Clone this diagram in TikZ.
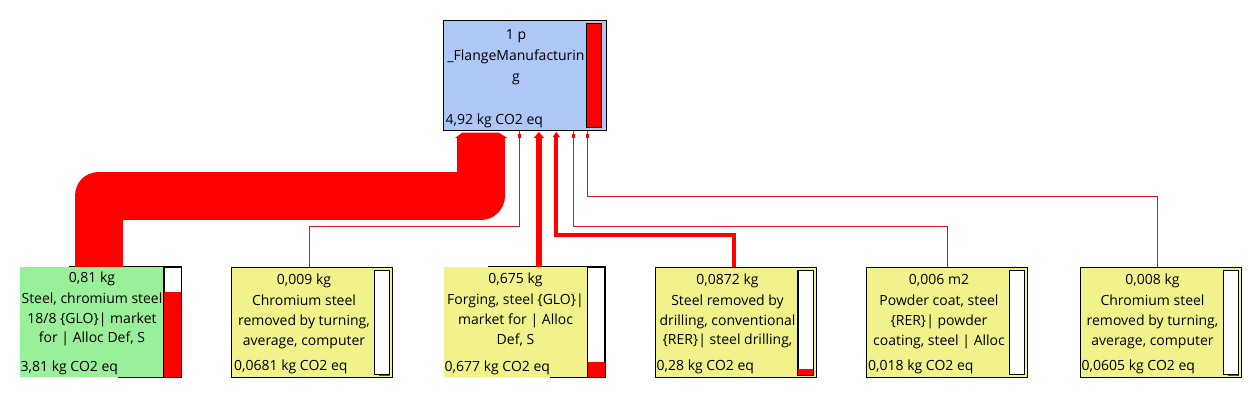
\documentclass[tikz,border=0pt]{standalone}
\usepackage{fontspec}
\setmainfont{Open Sans}
\usetikzlibrary{arrows.meta,calc}
\definecolor{topblue}{RGB}{174,199,247}
\definecolor{procgreen}{RGB}{154,240,154}
\definecolor{procyellow}{RGB}{242,242,140}
\definecolor{flowred}{RGB}{255,0,0}
\definecolor{thinred}{RGB}{205,30,30}
\begin{document}
\begin{tikzpicture}[x=1pt,y=-1pt,
  procbox/.style={draw=black,line width=1pt,inner sep=0pt,minimum width=161pt,minimum height=110pt},
  barbox/.style={draw=black,line width=1pt,fill=white,inner sep=0pt,minimum width=15pt,minimum height=104pt},
  amt/.style={inner sep=0pt,font=\fontsize{14}{19.7}\selectfont,text height=10pt,text depth=3.5pt},
  nm/.style={inner sep=0pt,font=\fontsize{14}{19.7}\selectfont,align=center},
  val/.style={inner sep=0pt,font=\fontsize{14}{17}\selectfont,text height=10pt,text depth=3.5pt,anchor=west},
  border/.style={draw=black,line width=1pt},
  thinflow/.style={draw=thinred,line width=1pt},
  tipmark/.style={fill=flowred},
  bigflow/.style={draw=flowred,line width=48pt,line join=round},
  forgeflow/.style={draw=flowred,line width=6pt,-{Triangle[length=6pt,width=10pt]}},
  drillflow/.style={draw=flowred,line width=4pt,-{Triangle[length=5pt,width=7pt]}}
]
\useasboundingbox (0,0) rectangle (1260,416);

% ---------- top process ----------
\node[procbox,fill=topblue,minimum width=163pt] (top) at (524.5,75) {};
\node[barbox,fill=flowred] (topbar) at (594,75) {};
\node[nm,font=\fontsize{14}{21}\selectfont] (toptitle) at (516,57) {1 p\\\_FlangeManufacturin\\g};
\node[val] (topval) at ($(top.west)+(3,46.7)$) {4,92 kg CO2 eq};

% ---------- box 1 (green) ----------
\node[procbox,draw=none,fill=procgreen] (b1) at (100.5,322) {};
\node[barbox,minimum width=17pt,minimum height=110pt] (b1bar) at (172.5,322) {};
\fill[flowred] ($(b1bar.north west)+(0,25)$) rectangle (b1bar.south east);
\draw[border] (b1bar.north west) rectangle (b1bar.south east);
\node[amt] (b1a) at (92,279) {0,81 kg};
\node[nm] (b1n) at (92,319.5) {Steel, chromium steel\\18/8 \{GLO\}| market\\for | Alloc Def, S};
\node[val] (b1v) at ($(b1.west)+(1,46)$) {3,81 kg CO2 eq};
\draw[border] (b1a.west |- b1.north) -- (b1bar.north west);
\draw[border] (b1v.east |- b1.south) -- (b1bar.south west);

% ---------- box 2 ----------
\node[procbox,fill=procyellow] (b2) at (312,322.5) {};
\node[barbox] (b2bar) at ($(b2.east)+(-11,0)$) {};
\draw[flowred,line width=1pt] ($(b2bar.south)+(-3,0)$) -- (b2bar.south east);
\node[amt] (b2a) at ($(b2.center)+(-8,-40.8)$) {0,009 kg};
\node[nm] (b2n) at ($(b2.center)+(-8,-0.8)$) {Chromium steel\\removed by turning,\\average, computer};
\node[val] (b2v) at ($(b2.west)+(3,44.5)$) {0,0681 kg CO2 eq};

% ---------- box 3 (forging) ----------
\node[procbox,draw=none,fill=procyellow] (b3) at (524,322) {};
\node[barbox,minimum width=17pt,minimum height=110pt] (b3bar) at (596,322) {};
\fill[flowred] ($(b3bar.north west)+(0,95)$) rectangle (b3bar.south east);
\draw[border] (b3bar.north west) rectangle (b3bar.south east);
\node[amt] (b3a) at (515.5,280) {0,675 kg};
\node[nm] (b3n) at (515.5,320) {Forging, steel \{GLO\}|\\market for | Alloc\\Def, S};
\node[val] (b3v) at ($(b3.west)+(1.5,46)$) {0,677 kg CO2 eq};
\draw[border] (b3a.west |- b3.north) -- (b3bar.north west);
\draw[border] (b3v.east |- b3.south) -- (b3bar.south west);

% ---------- box 4 ----------
\node[procbox,fill=procyellow] (b4) at (735.5,322.5) {};
\node[barbox] (b4bar) at ($(b4.east)+(-11,0)$) {};
\fill[flowred] ($(b4bar.south west)+(0,-6)$) rectangle (b4bar.south east);
\draw[border] (b4bar.north west) rectangle (b4bar.south east);
\node[amt] (b4a) at ($(b4.center)+(-8,-40.8)$) {0,0872 kg};
\node[nm] (b4n) at ($(b4.center)+(-8,-1)$) {Steel removed by\\drilling, conventional\\\{RER\}| steel drilling,};
\node[val] (b4v) at ($(b4.west)+(2,45)$) {0,28 kg CO2 eq};

% ---------- box 5 ----------
\node[procbox,fill=procyellow] (b5) at (947,322.5) {};
\node[barbox] (b5bar) at ($(b5.east)+(-11,0)$) {};
\node[amt] (b5a) at ($(b5.center)+(-8,-40.8)$) {0,006 m2};
\node[nm] (b5n) at ($(b5.center)+(-8,-0.8)$) {Powder coat, steel\\\{RER\}| powder\\coating, steel | Alloc};
\node[val] (b5v) at ($(b5.west)+(2,44.5)$) {0,018 kg CO2 eq};

% ---------- box 6 ----------
\node[procbox,fill=procyellow] (b6) at (1160.5,322.5) {};
\node[barbox] (b6bar) at ($(b6.east)+(-11,0)$) {};
\draw[flowred,line width=1pt] ($(b6bar.south)+(-3,0)$) -- (b6bar.south east);
\node[amt] (b6a) at ($(b6.center)+(-8,-40.8)$) {0,008 kg};
\node[nm] (b6n) at ($(b6.center)+(-8,-0.8)$) {Chromium steel\\removed by turning,\\average, computer};
\node[val] (b6v) at ($(b6.west)+(2,44.5)$) {0,0605 kg CO2 eq};

% ---------- connectors ----------
\coordinate (inA) at ($(top.south)+(-43.2,7.5)$);
\coordinate (inB) at ($(top.south)+(-5.2,0)$);
\coordinate (inC) at ($(top.south)+(14.3,1.5)$);
\coordinate (inD) at ($(top.south)+(31.8,1.5)$);
\coordinate (inE) at ($(top.south)+(48.8,0)$);
\coordinate (inF) at ($(top.south)+(62.8,0)$);

\draw[bigflow] ($(b1.north)+(-2,0)$) -- ++(0,-71) -| (inA);
\fill[flowred] ($(inA)+(-26.3,0)$) -- ++(7.5,-5.5) -- ++(36,0) -- ++(9,5.5) -- cycle;

\draw[thinflow] ($(b2.north)+(-2.7,0)$) -- ++(0,-40.3) -| (inB);
\fill[tipmark] ($(inB)+(-1.5,3.5)$) rectangle ++(3,4);

\draw[forgeflow] ($(b3.north)+(14.8,0)$) -- (inC);

\draw[drillflow] ($(b4.north)+(-2,0)$) -- ++(0,-32) -| (inD);

\draw[thinflow] (b5.north) -- ++(0,-40.3) -| (inE);
\fill[tipmark] ($(inE)+(-1.5,3.5)$) rectangle ++(3,4);

\draw[thinflow] ($(b6.north)+(-3,0)$) -- ++(0,-70.3) -| (inF);
\fill[tipmark] ($(inF)+(-1.5,3.5)$) rectangle ++(3,4);
\end{tikzpicture}
\end{document}
